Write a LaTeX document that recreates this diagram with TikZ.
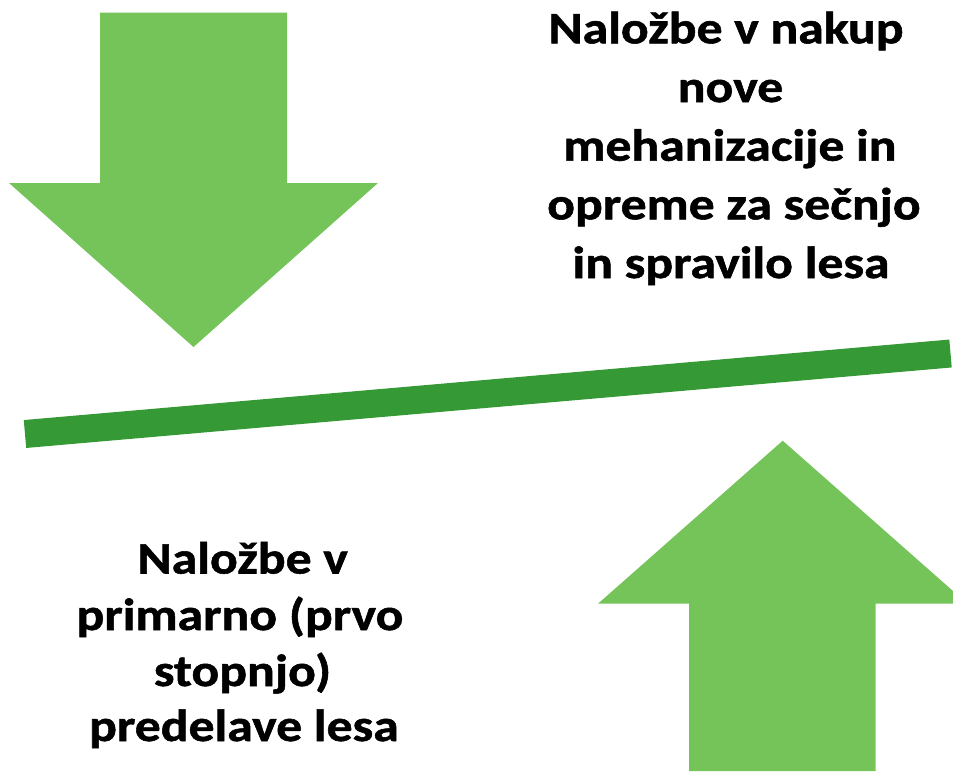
\documentclass[tikz,border=0pt]{standalone}
\usepackage{fontspec}
\setmainfont{Carlito}[FakeStretch=1.15,BoldFeatures={FakeBold=1.2}]
\definecolor{arrowgreen}{HTML}{74C45A}
\definecolor{linegreen}{HTML}{359935}
\begin{document}
\begin{tikzpicture}[x=1pt,y=-1pt,
  arrowshape/.style={fill=arrowgreen,draw=none},
  barline/.style={draw=linegreen,line width=28pt},
  lbl/.style={anchor=base,inner sep=0pt,font=\fontsize{45}{58}\selectfont\bfseries}]
\useasboundingbox (0,0) rectangle (953,771);
\clip (0,0) rectangle (953,771);
% down arrow
\fill[arrowshape] (100,12.5) -- (287,12.5) -- (287,183) -- (378,183) -- (193.5,347) -- (9,183) -- (100,183) -- cycle;
% up arrow
\fill[arrowshape] (689,771) -- (689,603.7) -- (598,603.7) -- (782.7,440.7) -- (967.4,603.7) -- (875.7,603.7) -- (875.7,771) -- cycle;
% bar
\coordinate (lineL) at (25,434);
\coordinate (lineR) at (950.5,353.5);
\draw[barline] (lineL) -- (lineR);
% top right text
\node[lbl] (t1) at (726,43.3) {Naložbe v nakup};
\node[lbl] (t2) at (730.5,102) {nove};
\node[lbl] (t3) at (730,160.7) {mehanizacije in};
\node[lbl] (t4) at (734,219.3) {opreme za sečnjo};
\node[lbl] (t5) at (731,278) {in spravilo lesa};
% bottom left text
\node[lbl] (b1) at (242.7,573.5) {Naložbe v};
\node[lbl] (b2) at (240,630) {primarno (prvo};
\node[lbl] (b3) at (242.5,686) {stopnjo)};
\node[lbl] (b4) at (244,741) {predelave lesa};
\end{tikzpicture}
\end{document}
